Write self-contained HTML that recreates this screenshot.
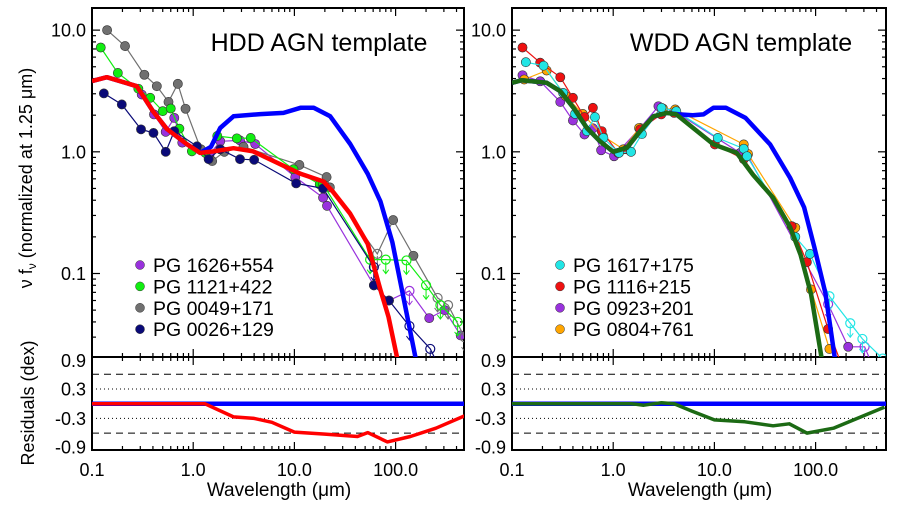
<!DOCTYPE html>
<html><head><meta charset="utf-8"><style>
html,body{margin:0;padding:0;background:#fff;}
svg{display:block;font-family:"Liberation Sans",sans-serif;}
</style></head><body>
<svg id="chart" width="897" height="507" viewBox="0 0 897 507" xmlns="http://www.w3.org/2000/svg"></svg>
<script>
// ---------- DATA ----------
const xTickLabels = ["0.1","1.0","10.0","100.0"];
const xTickValues = [0.1,1,10,100];
const yTickLabels = ["10.0","1.0","0.1"];
const yTickValues = [10,1,0.1];
const resTickLabels = ["0.9","0.3","-0.3","-0.9"];
const resTickValues = [0.88,0.3,-0.3,-0.88];

// Left panel: HDD template (red) and WDD template (blue)
const hddLam  = [0.1,0.14,0.277,0.4,0.55,0.86,1.17,1.6,2.5,3.9,6.2,11.5,19.4,24,35.6,53,71,85,104];
const hddFlux = [3.81,4.1,3.46,2.16,1.54,1.16,0.98,1.01,1.07,1.01,0.84,0.66,0.57,0.47,0.31,0.175,0.073,0.044,0.02];
const wddLamL  = [0.1,0.14,0.277,0.4,0.55,0.86,1.17,1.5,1.85,2.5,4.6,7.8,11.5,15.5,22.6,35.6,53,71,93,158];
const wddFluxL = [3.81,4.1,3.46,2.16,1.54,1.16,0.98,1.1,1.57,1.96,2.04,2.09,2.3,2.3,1.96,1.16,0.66,0.39,0.18,0.02];
// Right panel: WDD template (green) and blue template
const wddLam  = [0.1,0.125,0.22,0.3,0.405,0.55,0.74,1.0,1.37,1.85,2.5,3.4,4.2,9.8,16.6,24,38,56,71,90,115];
const wddFlux = [3.69,3.88,3.69,3.15,2.3,1.57,1.22,1.0,1.08,1.48,1.96,2.09,2.03,1.15,0.98,0.65,0.42,0.24,0.143,0.068,0.02];
const blueLamR  = [0.1,0.125,0.22,0.3,0.405,0.55,0.74,1.0,1.37,1.85,2.5,3.4,4.5,6.1,7.8,9.8,13,20.3,35.5,56,77,97,125,155];
const blueFluxR = [3.69,3.88,3.69,3.15,2.3,1.57,1.22,1.0,1.08,1.48,1.96,2.09,2.03,2.0,2.03,2.3,2.3,1.9,1.15,0.61,0.35,0.165,0.069,0.02];

// Residuals
const resRedLam = [0.1,1.3,2.5,4,6,10,20,42,53,83,140,250,480];
const resRedVal = [0,0,-0.27,-0.3,-0.38,-0.58,-0.62,-0.67,-0.59,-0.78,-0.67,-0.5,-0.25];
const resGreenLam = [0.1,1.5,2,3,4,6,10,20,38,55,82,150,480];
const resGreenVal = [0,0,-0.03,0.02,0,-0.15,-0.33,-0.37,-0.45,-0.41,-0.6,-0.5,-0.07];

// Left scatter (open = upper limit)
const s1626Lam = [0.31,0.41,0.535,0.65,0.78,1.45,1.85,2.9,4.1,10.2,19.2,21,61,86,137,215,305,440];
const s1626Flux= [2.96,2.03,1.46,1.9,1.19,0.95,1.22,1.24,1.16,0.62,0.42,0.36,0.08,0.06,0.072,0.043,0.05,0.031];
const s1626Open= [0,0,0,0,0,0,0,0,0,0,0,0,0,0,1,0,0,0];
const s1121Lam = [0.122,0.18,0.287,0.376,0.5,0.6,0.73,0.97,1.32,1.73,2.7,3.7,9.8,17.8,19.2,56,80,128,200,277,410];
const s1121Flux= [7.2,4.45,3.3,2.78,2.16,2.27,1.55,1.01,0.98,1.35,1.29,1.3,0.72,0.54,0.54,0.13,0.13,0.128,0.08,0.055,0.04];
const s1121Open= [0,0,0,0,0,0,0,0,0,0,0,0,0,0,0,1,1,1,1,1,1];
const s0049Lam = [0.141,0.212,0.329,0.437,0.57,0.705,0.84,1.19,1.54,2.03,3.14,11.2,20.8,22.4,66,94.6,150,260,330,480];
const s0049Flux= [10.0,7.4,4.3,3.46,2.57,3.62,2.26,1.05,0.84,1.0,1.1,0.78,0.62,0.51,0.145,0.275,0.14,0.063,0.055,0.03];
const s0049Open= [0,0,0,0,0,0,0,0,0,0,0,0,0,0,1,0,0,1,1,1];
const s0026Lam = [0.131,0.197,0.305,0.405,0.535,0.65,1.09,1.42,1.85,2.9,4.0,10.4,19.2,61,61,86,137,220,260];
const s0026Flux= [3.02,2.45,1.53,1.43,1.0,1.48,1.11,0.87,1.05,0.87,0.86,0.55,0.5,0.113,0.08,0.06,0.037,0.024,0.018];
const s0026Open= [0,0,0,0,0,0,0,0,0,0,0,0,0,1,0,0,1,1,1];

// Right scatter
const s1617Lam = [0.137,0.205,0.32,0.42,0.55,0.66,0.8,1.14,1.5,1.92,3.0,4.2,10.8,19.5,21,63,88,137,220,290,460];
const s1617Flux= [5.45,5.1,3.05,2.05,1.48,1.93,1.3,0.98,1.0,1.4,2.3,2.16,1.3,1.06,0.92,0.2,0.145,0.065,0.039,0.029,0.02];
const s1617Open= [0,0,0,0,0,0,0,0,0,0,0,0,0,0,0,0,0,1,1,1,1];
const s1116Lam = [0.127,0.19,0.3,0.4,0.52,0.63,0.77,1.12,1.37,1.85,2.98,4.0,10.1,19.5,58,82,133,180];
const s1116Flux= [7.2,5.4,4.1,2.78,1.93,2.3,1.48,0.98,1.05,1.53,2.03,2.09,1.15,0.87,0.245,0.124,0.035,0.018];
const s1116Open= [0,0,0,0,0,0,0,0,0,0,0,0,0,0,0,0,0,0];
const s0923Lam = [0.127,0.19,0.3,0.4,0.52,0.63,0.76,1.02,1.85,2.8,4.0,18,21,133,210,305,360];
const s0923Flux= [4.26,3.8,2.57,1.81,1.39,1.56,1.03,0.92,1.57,2.37,2.16,0.98,0.95,0.056,0.025,0.025,0.018];
const s0923Open= [0,0,0,0,0,0,0,0,0,0,0,0,0,1,0,1,1];
const s0804Lam = [0.132,0.22,0.34,0.5,0.79,1.26,1.8,3.1,4.1,19.5,21.5,63,90,137];
const s0804Flux= [3.93,4.66,2.87,2.05,1.35,1.05,1.57,2.27,2.23,1.15,0.96,0.238,0.074,0.024];
const s0804Open= [0,0,0,0,0,0,0,0,0,0,0,0,0,0];

// ---------- DRAW ----------
const svg = document.getElementById('chart');
const NS = 'http://www.w3.org/2000/svg';
function mk(tag, attrs, parent){const e=document.createElementNS(NS,tag);for(const k in attrs)e.setAttribute(k,attrs[k]);(parent||svg).appendChild(e);return e;}

const MAIN_TOP=8, MAIN_BOT=357, RES_BOT=450;
const YMAX=Math.log10(15.2), YMIN=Math.log10(0.0206);
const panels=[{x0:92,x1:464,name:'left'},{x0:512,x1:886,name:'right'}];
const DEC=101.2;
function xs(p,lam){return p.x0+(Math.log10(lam)+1)*DEC;}
function ys(f){return MAIN_TOP+(YMAX-Math.log10(f))/(YMAX-YMIN)*(MAIN_BOT-MAIN_TOP);}
function yr(v){return 403.7-v*49;}

const defs=mk('defs',{});
panels.forEach((p,i)=>{
  const c=mk('clipPath',{id:'cm'+i},defs);mk('rect',{x:p.x0,y:MAIN_TOP,width:p.x1-p.x0,height:MAIN_BOT-MAIN_TOP},c);
  const r=mk('clipPath',{id:'cr'+i},defs);mk('rect',{x:p.x0,y:MAIN_BOT,width:p.x1-p.x0,height:RES_BOT-MAIN_BOT},r);
});

function path(p,lams,vals,fy){return lams.map((l,i)=>(i?'L':'M')+xs(p,l).toFixed(1)+','+fy(vals[i]).toFixed(1)).join(' ');}

function drawAxes(pi){
  const p=panels[pi];
  const g=mk('g',{});
  
  
  [0.6,-0.6].forEach(v=>mk('line',{x1:p.x0,x2:p.x1,y1:yr(v),y2:yr(v),stroke:'#000','stroke-width':1,'stroke-dasharray':'7,5'},g));
  [0.3,-0.3].forEach(v=>mk('line',{x1:p.x0,x2:p.x1,y1:yr(v),y2:yr(v),stroke:'#000','stroke-width':1,'stroke-dasharray':'1,3'},g));
  for(let d=-1;d<3;d++){for(let m=1;m<10;m++){
    const lam=m*Math.pow(10,d);const x=xs(p,lam);if(x>p.x1)continue;
    const L=m===1?8:4;
    [[MAIN_TOP,1],[MAIN_BOT,-1],[MAIN_BOT,1],[RES_BOT,-1]].forEach(([y,s])=>mk('line',{x1:x,x2:x,y1:y,y2:y+s*L,stroke:'#000','stroke-width':1.2},g));
  }}
  for(let d=-2;d<2;d++){for(let m=1;m<10;m++){
    const f=m*Math.pow(10,d);const y=ys(f);if(y<MAIN_TOP||y>MAIN_BOT)continue;
    const L=m===1?8:4;
    mk('line',{x1:p.x0,x2:p.x0+L,y1:y,y2:y,stroke:'#000','stroke-width':1.2},g);
    mk('line',{x1:p.x1,x2:p.x1-L,y1:y,y2:y,stroke:'#000','stroke-width':1.2},g);
  }}
  mk('rect',{x:p.x0,y:MAIN_TOP,width:p.x1-p.x0,height:MAIN_BOT-MAIN_TOP,fill:'none',stroke:'#000','stroke-width':2},g);
  mk('rect',{x:p.x0,y:MAIN_BOT,width:p.x1-p.x0,height:RES_BOT-MAIN_BOT,fill:'none',stroke:'#000','stroke-width':2},g);
  yTickLabels.forEach((t,i)=>{const e=mk('text',{x:p.x0-6,y:ys(yTickValues[i])+6.5,'text-anchor':'end','font-size':18},g);e.textContent=t;
    });
  resTickLabels.forEach((t,i)=>{const e=mk('text',{x:p.x0-6,y:yr(resTickValues[i])+6.5,'text-anchor':'end','font-size':18},g);e.textContent=t;
    });
  xTickLabels.forEach((t,i)=>{const e=mk('text',{x:xs(p,xTickValues[i]),y:476,'text-anchor':'middle','font-size':18},g);e.textContent=t;
    });
  const xt=mk('text',{x:(p.x0+p.x1)/2+1,y:496,'text-anchor':'middle','font-size':19},g);xt.textContent='Wavelength (\u03bcm)';
  
}

function drawLine(pi,lams,vals,color,w,name,res){
  const p=panels[pi];
  const e=mk('path',{d:path(p,lams,vals,res?yr:ys),fill:'none',stroke:color,'stroke-width':w,'stroke-linejoin':'round','clip-path':'url(#'+(res?'cr':'cm')+pi+')'});
  
}

function drawSeries(pi,lams,flux,open,color,name){
  const p=panels[pi];
  const g=mk('g',{'clip-path':'url(#cm'+pi+')'});
  
  
  mk('path',{d:path(p,lams,flux,ys),fill:'none',stroke:color,'stroke-width':1.2},g);
  lams.forEach((l,i)=>{
    const x=xs(p,l),y=ys(flux[i]);
    if(open[i]){
      mk('circle',{cx:x,cy:y,r:4.5,fill:'none',stroke:color,'stroke-width':1.2},g);
      mk('path',{d:`M${x},${y+2}L${x},${y+14}M${x-3},${y+10}L${x},${y+14}L${x+3},${y+10}`,fill:'none',stroke:color,'stroke-width':1},g);
    }else{
      const c=mk('circle',{cx:x,cy:y,r:4.6,fill:color,stroke:'#333','stroke-width':0.6},g);
      
      
    }
  });
}

drawAxes(0);drawAxes(1);

drawSeries(0,s1626Lam,s1626Flux,s1626Open,'#9932dd','series-pg1626');
drawSeries(0,s0049Lam,s0049Flux,s0049Open,'#707070','series-pg0049');
drawSeries(0,s1121Lam,s1121Flux,s1121Open,'#11ee11','series-pg1121');
drawSeries(0,s0026Lam,s0026Flux,s0026Open,'#0a0a78','series-pg0026');
drawLine(0,wddLamL,wddFluxL,'#0000ff',4.5,'wdd-template-line-left');
drawLine(0,hddLam,hddFlux,'#ff0000',4.5,'hdd-template-line');
drawLine(0,[0.1,500],[0,0],'#0000ff',4.5,'residual-zero-left',true);
drawLine(0,resRedLam,resRedVal,'#ff0000',3.5,'hdd-residual-line',true);

drawSeries(1,s0923Lam,s0923Flux,s0923Open,'#9932dd','series-pg0923');
drawSeries(1,s0804Lam,s0804Flux,s0804Open,'#ffa500','series-pg0804');
drawSeries(1,s1116Lam,s1116Flux,s1116Open,'#ee1111','series-pg1116');
drawSeries(1,s1617Lam,s1617Flux,s1617Open,'#22e5e5','series-pg1617');
drawLine(1,blueLamR,blueFluxR,'#0000ff',4.5,'blue-template-line-right');
drawLine(1,wddLam,wddFlux,'#1c6a14',4.5,'wdd-template-line');
drawLine(1,[0.1,500],[0,0],'#0000ff',4.5,'residual-zero-right',true);
drawLine(1,resGreenLam,resGreenVal,'#1c6a14',3.5,'wdd-residual-line',true);

const t1=mk('text',{x:319,y:51,'text-anchor':'middle','font-size':25});t1.textContent='HDD AGN template';

const t2=mk('text',{x:741,y:51,'text-anchor':'middle','font-size':25});t2.textContent='WDD AGN template';


const legL=[['PG 1626+554','#9932dd'],['PG 1121+422','#11ee11'],['PG 0049+171','#707070'],['PG 0026+129','#0a0a78']];
const legR=[['PG 1617+175','#22e5e5'],['PG 1116+215','#ee1111'],['PG 0923+201','#9932dd'],['PG 0804+761','#ffa500']];
[[legL,140],[legR,560]].forEach(([leg,x0])=>{
  leg.forEach((it,i)=>{
    const y=265+i*21.4;
    const g=mk('g',{});
    
    
    mk('circle',{cx:x0,cy:y,r:4.5,fill:it[1],stroke:'#333','stroke-width':0.5},g);
    const t=mk('text',{x:x0+13,y:y+7,'font-size':19.5},g);t.textContent=it[0];
  });
});

const yt=mk('text',{transform:'translate(32,178) rotate(-90)','text-anchor':'middle','font-size':18});

yt.innerHTML='\u03bd f<tspan dy="4" font-size="12">\u03bd</tspan><tspan dy="-4"> (normalized at 1.25 \u03bcm)</tspan>';
const rt=mk('text',{transform:'translate(34,403) rotate(-90)','text-anchor':'middle','font-size':18});
rt.textContent='Residuals (dex)';

</script>
</body></html>
